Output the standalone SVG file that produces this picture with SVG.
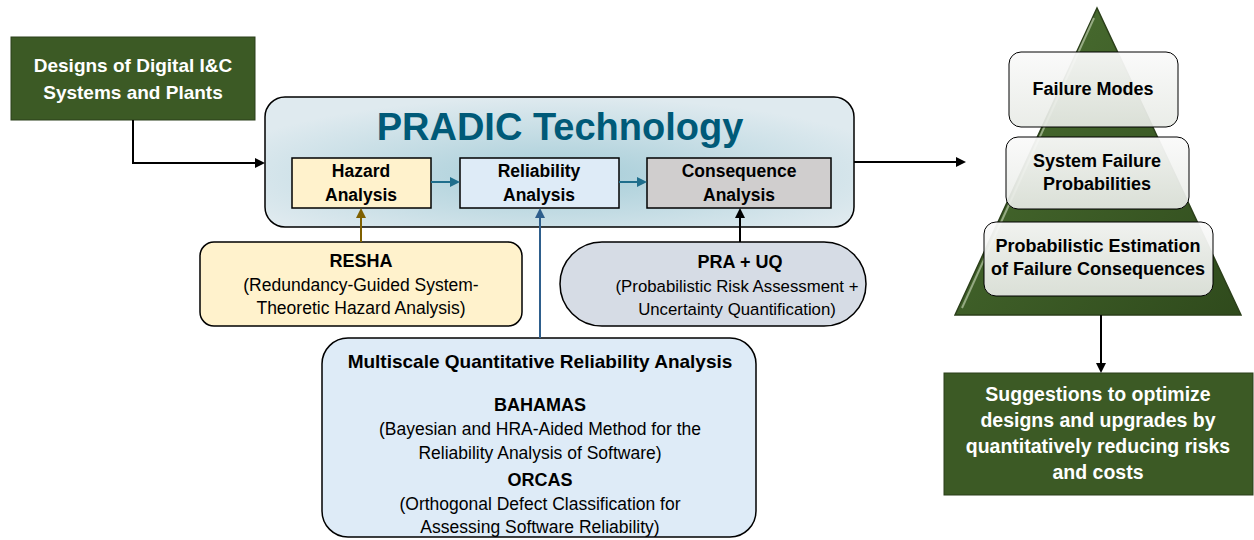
<svg xmlns="http://www.w3.org/2000/svg" width="1254" height="540" viewBox="0 0 1254 540">
<defs>
<style>
text{font-family:"Liberation Sans",Arial,sans-serif;text-anchor:middle;fill:#000}
.b{font-weight:bold}
.w{fill:#fff;font-weight:bold}
.t17{font-size:17.5px}
.t18{font-size:18px}
.t19{font-size:19.5px}
.green{fill:#3c5a25;stroke:#2b3f1a;stroke-width:1}
.sub{stroke:#000;stroke-width:1.5}
.pbox{fill:url(#pb);stroke:#000;stroke-width:1}
.ln{fill:none;stroke-width:2}
</style>
<radialGradient id="rg" cx="0.5" cy="0.6" r="0.6">
<stop offset="0" stop-color="#a6cdd8"/>
<stop offset="1" stop-color="#dfeaef"/>
</radialGradient>
<linearGradient id="pg" x1="0" y1="0" x2="1" y2="1">
<stop offset="0" stop-color="#4d7233"/>
<stop offset="1" stop-color="#2f4a1c"/>
</linearGradient>
<linearGradient id="pb" x1="0" y1="0" x2="0" y2="1">
<stop offset="0" stop-color="#fafafa" stop-opacity="0.95"/>
<stop offset="1" stop-color="#e8ebe6" stop-opacity="0.92"/>
</linearGradient>
<marker id="ak" markerWidth="10" markerHeight="10" refX="8" refY="5" orient="auto" markerUnits="userSpaceOnUse"><path d="M0,0 L10,5 L0,10 z" fill="#000"/></marker>
<marker id="at" markerWidth="10" markerHeight="10" refX="8" refY="5" orient="auto" markerUnits="userSpaceOnUse"><path d="M0,0 L10,5 L0,10 z" fill="#1f6e8c"/></marker>
<marker id="ab" markerWidth="10" markerHeight="10" refX="8" refY="5" orient="auto" markerUnits="userSpaceOnUse"><path d="M0,0 L10,5 L0,10 z" fill="#2e5e8c"/></marker>
<marker id="ao" markerWidth="10" markerHeight="10" refX="8" refY="5" orient="auto" markerUnits="userSpaceOnUse"><path d="M0,0 L10,5 L0,10 z" fill="#7f6000"/></marker>
</defs>

<g id="designs">
<rect class="green" x="11" y="37" width="244" height="83"/>
<text class="w" font-size="19" x="133" y="72">Designs of Digital I&amp;C</text>
<text class="w" font-size="19" x="133" y="99">Systems and Plants</text>
</g>

<g id="pradic">
<rect x="265" y="97" width="589" height="130" rx="20" fill="url(#rg)" stroke="#000" stroke-width="1.5"/>
<text x="560" y="140" font-size="38" font-weight="bold" style="fill:#005a78">PRADIC Technology</text>
</g>

<g id="hazard">
<rect class="sub" x="292" y="158" width="139" height="50" fill="#fff2cc"/>
<text class="b t17" x="361" y="177">Hazard</text>
<text class="b t17" x="361" y="201">Analysis</text>
</g>
<g id="reliability">
<rect class="sub" x="460" y="158" width="159" height="50" fill="#deebf7"/>
<text class="b t17" x="539" y="177">Reliability</text>
<text class="b t17" x="539" y="201">Analysis</text>
</g>
<g id="consequence">
<rect class="sub" x="647" y="158" width="184" height="50" fill="#d0cece"/>
<text class="b t17" x="739" y="177">Consequence</text>
<text class="b t17" x="739" y="201">Analysis</text>
</g>

<g id="resha">
<rect x="200" y="242" width="322" height="84" rx="14" fill="#fff2cc" stroke="#000" stroke-width="1.5"/>
<text class="b t18" x="361" y="267">RESHA</text>
<text class="t17" x="361" y="291">(Redundancy-Guided System-</text>
<text class="t17" x="361" y="314">Theoretic Hazard Analysis)</text>
</g>

<g id="pra">
<rect x="560" y="242" width="306" height="84" rx="42" fill="#d6dce5" stroke="#000" stroke-width="1.5"/>
<text class="b t18" x="740" y="268">PRA + UQ</text>
<text font-size="16.8" x="737" y="292">(Probabilistic Risk Assessment +</text>
<text font-size="16.8" x="737" y="315">Uncertainty Quantification)</text>
</g>

<g id="multiscale">
<rect x="322" y="338" width="434" height="199" rx="26" fill="#deebf7" stroke="#000" stroke-width="1.5"/>
<text class="b" font-size="19" x="540" y="368">Multiscale Quantitative Reliability Analysis</text>
<text class="b t18" x="540" y="411">BAHAMAS</text>
<text class="t17" x="540" y="435">(Bayesian and HRA-Aided Method for the</text>
<text class="t17" x="540" y="459">Reliability Analysis of Software)</text>
<text class="b t18" x="540" y="486">ORCAS</text>
<text class="t17" x="540" y="510">(Orthogonal Defect Classification for</text>
<text class="t17" x="540" y="533">Assessing Software Reliability)</text>
</g>

<g id="pyramid">
<polygon points="1097,8 1241,315 955,315" fill="url(#pg)" stroke="#2b3f1a" stroke-width="1.5"/>
<polyline points="1094,18 962,308" fill="none" stroke="#b9c9a8" stroke-width="2" opacity="0.7"/>
</g>
<g id="failure-modes">
<rect class="pbox" x="1009" y="52" width="169" height="75" rx="12"/>
<text class="b t18" x="1093" y="95">Failure Modes</text>
</g>
<g id="system-failure">
<rect class="pbox" x="1006" y="137" width="183" height="72" rx="12"/>
<text class="b t18" x="1097" y="167">System Failure</text>
<text class="b t18" x="1097" y="190">Probabilities</text>
</g>
<g id="consequences">
<rect class="pbox" x="984" y="222" width="229" height="74" rx="12"/>
<text class="b t18" x="1098" y="252">Probabilistic Estimation</text>
<text class="b t18" x="1098" y="275">of Failure Consequences</text>
</g>

<g id="suggestions">
<rect class="green" x="944" y="373" width="309" height="122" stroke="#000" stroke-width="1.5"/>
<text class="w t19" x="1098" y="401">Suggestions to optimize</text>
<text class="w t19" x="1098" y="427">designs and upgrades by</text>
<text class="w t19" x="1098" y="453">quantitatively reducing risks</text>
<text class="w t19" x="1098" y="479">and costs</text>
</g>

<g id="connectors">
<polyline class="ln" points="133,120 133,163 263,163" stroke="#000" marker-end="url(#ak)"/>
<line class="ln" x1="854" y1="162" x2="964" y2="162" stroke="#000" marker-end="url(#ak)"/>
<line class="ln" x1="431" y1="182" x2="458" y2="182" stroke="#1f6e8c" marker-end="url(#at)"/>
<line class="ln" x1="619" y1="182" x2="645" y2="182" stroke="#1f6e8c" marker-end="url(#at)"/>
<line class="ln" x1="361" y1="242" x2="361" y2="210" stroke="#7f6000" marker-end="url(#ao)"/>
<line class="ln" x1="540" y1="338" x2="540" y2="210" stroke="#2e5e8c" marker-end="url(#ab)"/>
<line class="ln" x1="740" y1="242" x2="740" y2="210" stroke="#000" marker-end="url(#ak)"/>
<line class="ln" x1="1101" y1="315" x2="1101" y2="371" stroke="#000" marker-end="url(#ak)"/>
</g>
</svg>
